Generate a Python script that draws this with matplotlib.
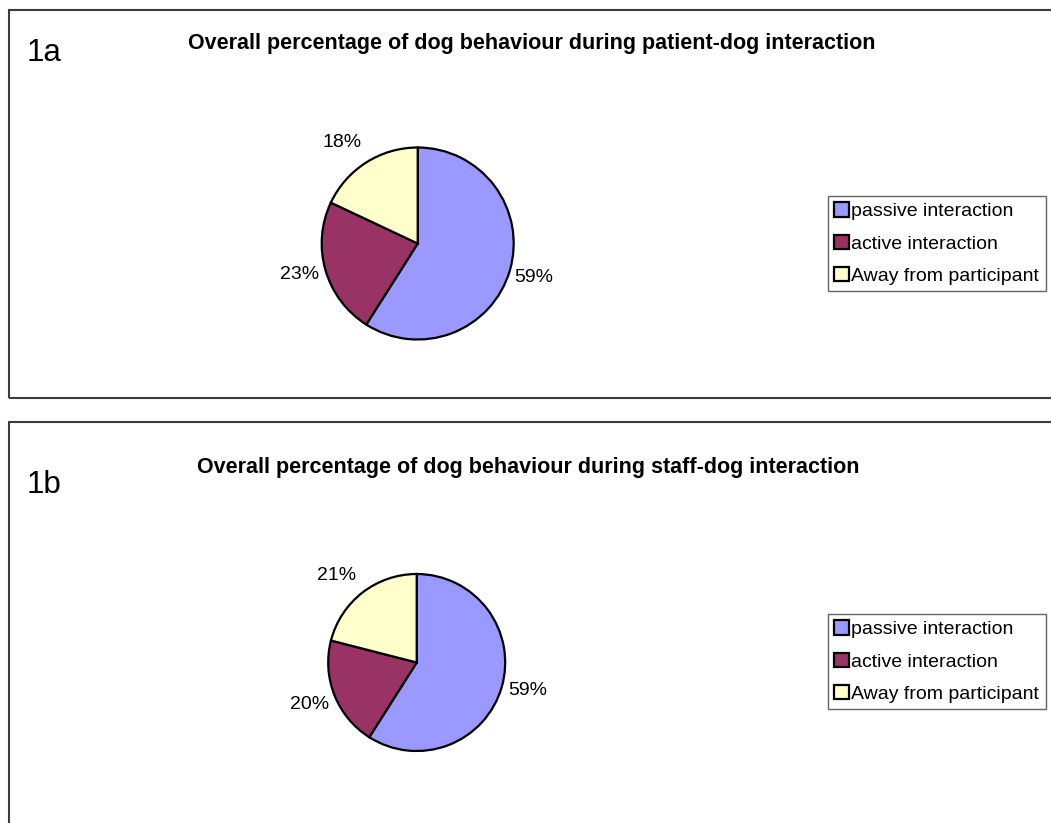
import matplotlib
matplotlib.use("Agg")
import matplotlib.pyplot as plt
from matplotlib.patches import Rectangle

plt.rcParams["font.family"] = ["Liberation Sans", "DejaVu Sans"]

W, H = 1051, 823

categories = ["passive interaction", "active interaction", "Away from participant"]
colors = ["#9999FF", "#993366", "#FFFFCC"]

patient_values = [59, 23, 18]
staff_values = [59, 20, 21]

panel_tags = ["1a", "1b"]
panel_titles = [
    "Overall percentage of dog behaviour during patient-dog interaction",
    "Overall percentage of dog behaviour during staff-dog interaction",
]

# layout in pixels: frame (left, top, bottom), tag xy, title xy, pie centre + radius, legend top-left
layout = [
    dict(frame=(9, 10, 398), tag=(27, 53), title=(532, 44), pie=(417.7, 243.5, 96),
         legend=(828, 196),
         pct_pos=[(1.21, -0.35), (-1.23, -0.32), (-0.79, 1.05)]),
    dict(frame=(9, 422, 830), tag=(27, 485), title=(528, 468), pie=(416.7, 662.5, 88.5),
         legend=(828, 614),
         pct_pos=[(1.25, -0.32), (-1.21, -0.47), (-0.91, 0.98)]),
]

fig = plt.figure(figsize=(W / 100, H / 100), dpi=100)


def fx(x):
    return x / W


def fy(y):
    return 1 - y / H


for values, tag, title, lay in zip([patient_values, staff_values], panel_tags, panel_titles, layout):
    left, top, bottom = lay["frame"]
    fig.patches.append(Rectangle((fx(left), fy(bottom)), fx(W + 20 - left), (bottom - top) / H,
                                 transform=fig.transFigure, fill=False,
                                 edgecolor="#3c3c3c", linewidth=1.5))
    fig.text(fx(lay["tag"][0]), fy(lay["tag"][1]), tag, fontsize=22.5, ha="left", va="center")
    fig.text(fx(lay["title"][0]), fy(lay["title"][1]), title, fontsize=15.5, fontweight="bold",
             ha="center", va="center")

    cx, cy, r = lay["pie"]
    ax = fig.add_axes([fx(cx - r), fy(cy + r), 2 * r / W, 2 * r / H])
    wedges, _, pcts = ax.pie(values, colors=colors, startangle=90, counterclock=False,
                             autopct="%1.0f%%", pctdistance=1.25,
                             wedgeprops=dict(edgecolor="black", linewidth=1.6),
                             textprops=dict(fontsize=14))
    for t, (px, py) in zip(pcts, lay["pct_pos"]):
        t.set_position((px, py))
        t.set_ha("center")
        t.set_va("center")
    ax.set_xlim(-1, 1)
    ax.set_ylim(-1, 1)
    ax.axis("off")

    leg = fig.legend(wedges, categories, loc="upper left",
                     bbox_to_anchor=(fx(lay["legend"][0]), fy(lay["legend"][1])),
                     fontsize=14, frameon=True, fancybox=False, borderaxespad=0,
                     handlelength=0.75, handleheight=0.75, handletextpad=0.12,
                     labelspacing=0.74, borderpad=0.33)
    leg.get_frame().set_edgecolor("#3c3c3c")
    leg.get_frame().set_linewidth(1.0)
    for h in leg.legend_handles:
        h.set_edgecolor("black")
        h.set_linewidth(1.6)

fig.savefig("out.png", dpi=100)
